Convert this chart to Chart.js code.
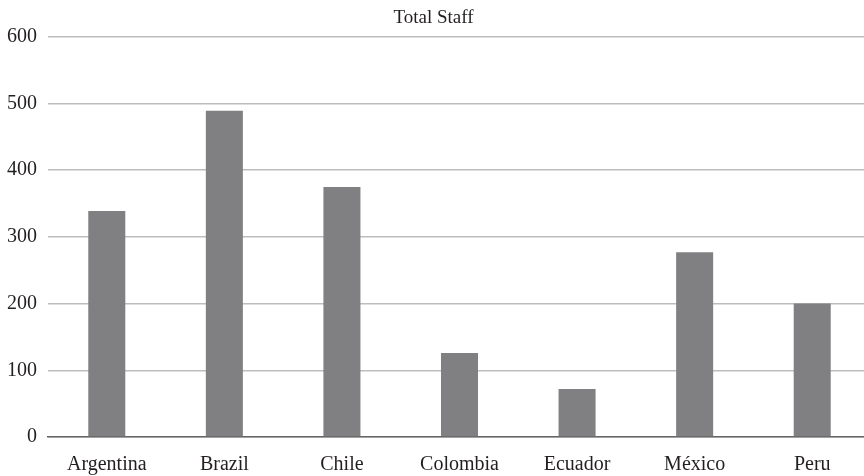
<!DOCTYPE html>
<html>
<head>
<meta charset="utf-8">
<script src="https://cdn.jsdelivr.net/npm/chart.js@4/dist/chart.umd.min.js"></script>
<style>
  html, body { margin: 0; padding: 0; background: #fff; overflow: hidden; }
  #wrap { width: 871px; height: 476px; position: relative; }
</style>
</head>
<body>
<div id="wrap"><canvas id="staffChart"></canvas></div>
<script>
const countries = ['Argentina', 'Brazil', 'Chile', 'Colombia', 'Ecuador', 'México', 'Peru'];
const totalStaff = [339, 489, 375, 126, 72, 277, 200];
const yTicks = [0, 100, 200, 300, 400, 500, 600];

const serif = '"Liberation Serif", "DejaVu Serif", serif';

const ctx = document.getElementById('staffChart').getContext('2d');
const staffChart = new Chart(ctx, {
    type: 'bar',
    data: {
        labels: countries,
        datasets: [{
            label: 'Total Staff',
            data: totalStaff,
            backgroundColor: '#808083',
            borderWidth: 0,
            barPercentage: 0.315,
            categoryPercentage: 1
        }]
    },
    options: {
        responsive: true,
        maintainAspectRatio: false,
        animation: false,
        layout: { padding: { top: 7, left: -4, right: 0, bottom: -9 } },
        plugins: {
            legend: { display: false },
            tooltip: { enabled: false },
            title: {
                display: true,
                text: 'Total Staff',
                color: '#231f20',
                font: { family: serif, size: 19, weight: 'normal' },
                padding: { top: 0, bottom: 7 }
            }
        },
        scales: {
            x: {
                grid: { display: false },
                border: { color: '#666', width: 1.5 },
                ticks: {
                    color: '#231f20',
                    font: { family: serif, size: 20 },
                    padding: 8,
                    maxRotation: 0
                }
            },
            y: {
                min: 0,
                max: 600,
                afterBuildTicks: (axis) => { axis.ticks = yTicks.map(v => ({ value: v })); },
                grid: { color: '#bdbdbd', lineWidth: 1.5, drawTicks: false },
                border: { display: false },
                ticks: {
                    color: '#231f20',
                    font: { family: serif, size: 20 },
                    padding: 11
                }
            }
        }
    }
});
</script>
</body>
</html>
